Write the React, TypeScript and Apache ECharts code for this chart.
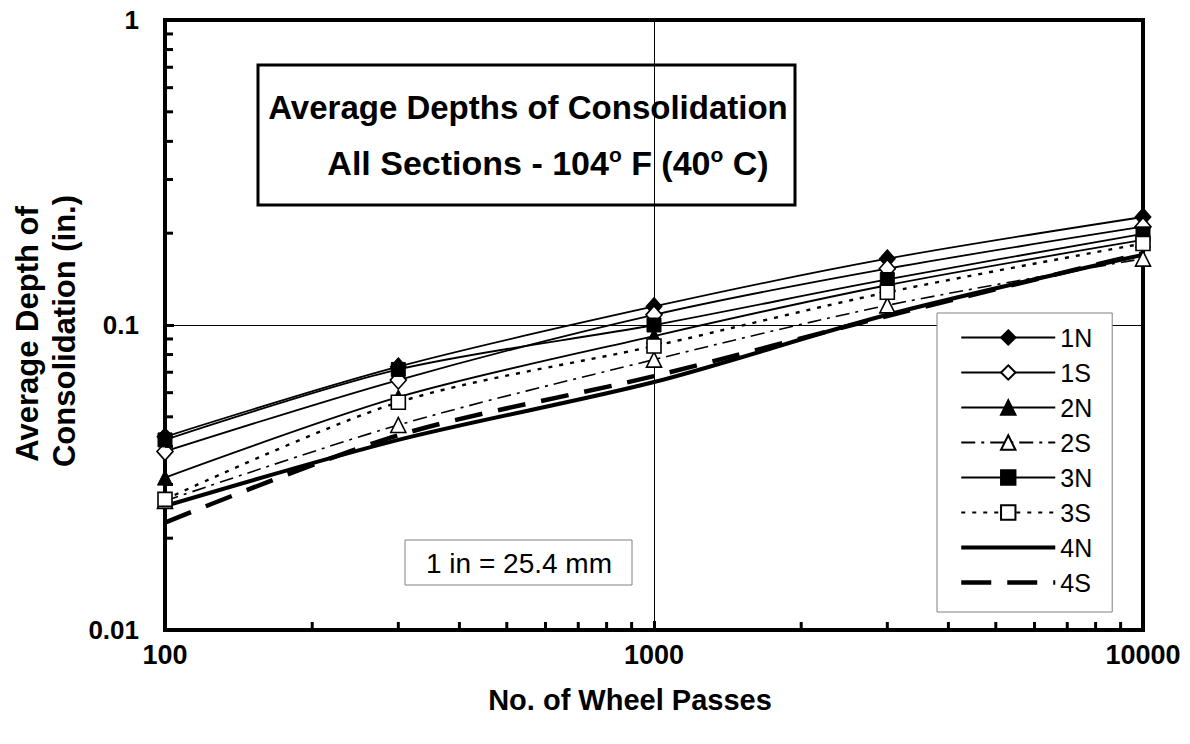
import React, { useEffect, useRef } from "react";
import * as echarts from "echarts";

const passes = [100, 300, 1000, 3000, 10000];
const s1N = [0.043, 0.073, 0.115, 0.165, 0.226];
const s1S = [0.0385, 0.066, 0.108, 0.153, 0.21];
const s2N = [0.0316, 0.058, 0.092, 0.135, 0.19];
const s2S = [0.0265, 0.047, 0.077, 0.116, 0.165];
const s3N = [0.042, 0.0715, 0.1, 0.141, 0.199];
const s3S = [0.0268, 0.0558, 0.0853, 0.128, 0.185];
const s4N = [0.0255, 0.042, 0.065, 0.108, 0.17];
const s4S = [0.0225, 0.0435, 0.068, 0.107, 0.172];

const xMinorTicks = [200, 300, 400, 500, 600, 700, 800, 900, 2000, 3000, 4000, 5000, 6000, 7000, 8000, 9000];
const yMinorTicks = [0.02, 0.03, 0.04, 0.05, 0.06, 0.07, 0.08, 0.09, 0.2, 0.3, 0.4, 0.5, 0.6, 0.7, 0.8, 0.9];

const FONT = "Liberation Sans, Arial, sans-serif";

const pair = (ys: number[]) => passes.map((x, i) => [x, ys[i]]);

export default function App() {
  const ref = useRef<HTMLDivElement>(null);
  useEffect(() => {
    if (!ref.current) return;
    const chart = echarts.init(ref.current, undefined, { renderer: "svg" });
    const thin = { color: "#000", width: 1.8 };
    const mk = (
      name: string,
      ys: number[],
      symbol: string,
      size: any,
      filled: boolean,
      line: any
    ) => ({
      name,
      type: "line",
      data: pair(ys),
      smooth: 0.3,
      symbol,
      symbolSize: size,
      showSymbol: symbol !== "none",
      lineStyle: line,
      itemStyle: filled
        ? { color: "#000", borderColor: "#000", borderWidth: 1 }
        : { color: "#fff", borderColor: "#000", borderWidth: 1.6 },
      z: 3,
    });
    const series: any[] = [
      mk("1N", s1N, "diamond", [16, 18], true, thin),
      mk("1S", s1S, "diamond", [16, 18], false, thin),
      mk("2N", s2N, "triangle", 15, true, thin),
      mk("2S", s2S, "triangle", 15, false, { color: "#000", width: 1.6, type: [14, 6, 3, 6] }),
      mk("3N", s3N, "rect", 14, true, thin),
      mk("3S", s3S, "rect", 14, false, { color: "#000", width: 2.4, type: [4, 7] }),
      mk("4N", s4N, "none", 0, true, { color: "#000", width: 4 }),
      mk("4S", s4S, "none", 0, true, { color: "#000", width: 4.5, type: [28, 16] }),
      {
        type: "custom",
        silent: true,
        data: xMinorTicks.map((v) => [v, 0.01]),
        renderItem: (params: any, api: any) => {
          const p = api.coord([api.value(0), api.value(1)]);
          return {
            type: "line",
            shape: { x1: p[0], y1: p[1], x2: p[0], y2: p[1] - 8 },
            style: { stroke: "#000", lineWidth: 3 },
          };
        },
        z: 5,
      },
      {
        type: "custom",
        silent: true,
        data: yMinorTicks.map((v) => [100, v]),
        renderItem: (params: any, api: any) => {
          const p = api.coord([api.value(0), api.value(1)]);
          return {
            type: "line",
            shape: { x1: p[0], y1: p[1], x2: p[0] + 8, y2: p[1] },
            style: { stroke: "#000", lineWidth: 3 },
          };
        },
        z: 5,
      },
    ];

    const noSym = { color: "transparent", borderColor: "transparent", borderWidth: 0, opacity: 0 };

    chart.setOption({
      animation: false,
      backgroundColor: "#fff",
      grid: {
        left: 165,
        right: 47,
        top: 20,
        bottom: 114,
        show: true,
        borderColor: "#000",
        borderWidth: 4,
        backgroundColor: "transparent",
      },
      xAxis: {
        type: "log",
        min: 100,
        max: 10000,
        logBase: 10,
        axisLine: { lineStyle: { color: "#000", width: 4 } },
        axisTick: { inside: true, length: 9, lineStyle: { color: "#000", width: 3 } },
        axisLabel: {
          fontFamily: FONT,
          fontWeight: "bold",
          fontSize: 27,
          color: "#000",
          margin: 11,
          formatter: (v: number) => String(Math.round(v)),
        },
        splitLine: { show: true, lineStyle: { color: "#000", width: 1 } },
      },
      yAxis: {
        type: "log",
        min: 0.01,
        max: 1,
        logBase: 10,
        axisLine: { lineStyle: { color: "#000", width: 4 } },
        axisTick: { inside: true, length: 9, lineStyle: { color: "#000", width: 3 } },
        axisLabel: {
          fontFamily: FONT,
          fontWeight: "bold",
          fontSize: 26,
          color: "#000",
          margin: 26,
          formatter: (v: number) => (v >= 1 ? "1" : v >= 0.1 ? "0.1" : "0.01"),
        },
        splitLine: { show: true, lineStyle: { color: "#000", width: 1 } },
      },
      legend: {
        data: [
          "1N",
          "1S",
          "2N",
          "2S",
          "3N",
          "3S",
          { name: "4N", itemStyle: noSym, lineStyle: { width: 4 } },
          { name: "4S", itemStyle: noSym, lineStyle: { width: 4.5, type: [30, 16] } },
        ],
        orient: "vertical",
        left: 937,
        top: 313,
        itemWidth: 94,
        itemHeight: 18,
        itemGap: 10,
        padding: [12, 20, 17, 22],
        backgroundColor: "#fff",
        borderColor: "#808080",
        borderWidth: 1,
        textStyle: { fontFamily: FONT, fontSize: 25, color: "#000", padding: [0, 0, 0, 0] },
        selectedMode: false,
      },
      graphic: [
        {
          type: "group",
          z: 10,
          children: [
            {
              type: "rect",
              shape: { x: 258, y: 65, width: 537, height: 140 },
              style: { fill: "#fff", stroke: "#000", lineWidth: 3 },
            },
            {
              type: "text",
              x: 528,
              y: 107,
              style: {
                text: "Average Depths of Consolidation",
                fontFamily: FONT,
                fontWeight: "bold",
                fontSize: 33,
                fill: "#000",
                align: "center",
                verticalAlign: "middle",
              },
            },
            {
              type: "text",
              x: 548,
              y: 163,
              style: {
                text: "All Sections - 104{s|o} F (40{s|o} C)",
                fontFamily: FONT,
                fontWeight: "bold",
                fontSize: 34,
                fill: "#000",
                align: "center",
                verticalAlign: "middle",
                rich: {
                  s: { fontFamily: FONT, fontWeight: "bold", fontSize: 21, verticalAlign: "top", padding: [0, 0, 18, 0] },
                },
              },
            },
          ],
        },
        {
          type: "group",
          z: 10,
          children: [
            {
              type: "rect",
              shape: { x: 405, y: 540, width: 227, height: 45 },
              style: { fill: "#fff", stroke: "#808080", lineWidth: 1 },
            },
            {
              type: "text",
              x: 519,
              y: 563,
              style: {
                text: "1 in = 25.4 mm",
                fontFamily: FONT,
                fontSize: 28,
                fill: "#000",
                align: "center",
                verticalAlign: "middle",
              },
            },
          ],
        },
        {
          type: "text",
          x: 630,
          y: 700,
          style: {
            text: "No. of Wheel Passes",
            fontFamily: FONT,
            fontWeight: "bold",
            fontSize: 29,
            fill: "#000",
            align: "center",
            verticalAlign: "middle",
          },
        },
        {
          type: "text",
          x: 27,
          y: 334,
          rotation: Math.PI / 2,
          style: {
            text: "Average Depth of",
            fontFamily: FONT,
            fontWeight: "bold",
            fontSize: 31,
            fill: "#000",
            align: "center",
            verticalAlign: "middle",
          },
        },
        {
          type: "text",
          x: 64,
          y: 331,
          rotation: Math.PI / 2,
          style: {
            text: "Consolidation (in.)",
            fontFamily: FONT,
            fontWeight: "bold",
            fontSize: 31,
            fill: "#000",
            align: "center",
            verticalAlign: "middle",
          },
        },
      ],
      series,
    });
    return () => chart.dispose();
  }, []);
  return <div ref={ref} style={{ width: 1190, height: 744, position: "absolute", left: 0, top: 0 }} />;
}
